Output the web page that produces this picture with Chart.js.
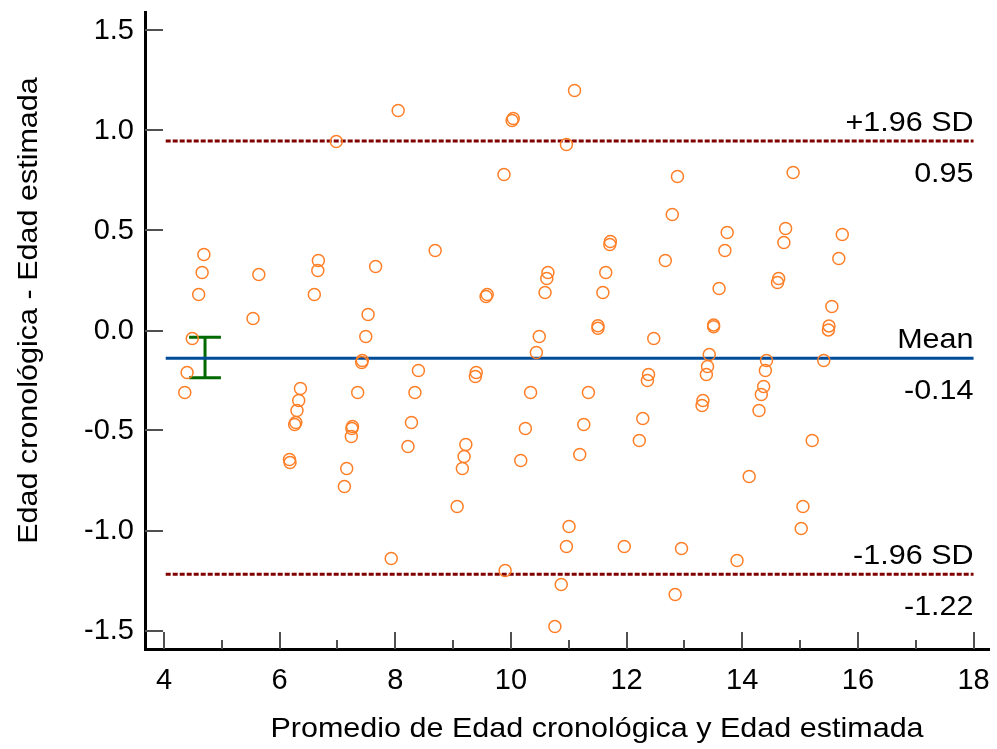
<!DOCTYPE html>
<html>
<head>
<meta charset="utf-8">
<script src="https://cdn.jsdelivr.net/npm/chart.js@4.4.1/dist/chart.umd.min.js"></script>
<style>
html, body { margin: 0; padding: 0; background: #fff; }
canvas { display: block; }
</style>
</head>
<body>
<canvas id="baChart" width="997" height="749"></canvas>
<script>
// average of the two ages (x) and their difference (y)
const avgAge = [
    4.36, 4.40, 4.49, 4.60, 4.66, 4.69, 5.54, 5.64,
    6.17, 6.18, 6.26, 6.28, 6.30, 6.33, 6.36, 6.60, 6.66, 6.67, 6.98,
    7.12, 7.16, 7.24, 7.25, 7.26, 7.35, 7.42, 7.43, 7.49, 7.53, 7.66, 7.93,
    8.05, 8.22, 8.28, 8.34, 8.40, 8.69,
    9.07, 9.16, 9.19, 9.22, 9.385, 9.40, 9.57, 9.59, 9.88, 9.90,
    10.02, 10.04, 10.17, 10.25, 10.34, 10.44, 10.49, 10.59, 10.62, 10.64,
    10.76, 10.87, 10.96, 10.96, 11.005, 11.10, 11.19, 11.26, 11.34,
    11.505, 11.505, 11.59, 11.64, 11.71, 11.72, 11.96,
    12.22, 12.28, 12.36, 12.38, 12.47, 12.67, 12.79, 12.84, 12.88, 12.95,
    13.305, 13.32, 13.38, 13.40, 13.43, 13.505, 13.505, 13.60, 13.70, 13.74, 13.91,
    14.12, 14.29, 14.33, 14.37, 14.40, 14.42, 14.61, 14.63, 14.72, 14.75, 14.88,
    15.02, 15.05, 15.21, 15.41, 15.49, 15.50, 15.55, 15.67, 15.73
];
const ageDiff = [
    -0.31, -0.21, -0.04, 0.18, 0.29, 0.38, 0.06, 0.28,
    -0.645, -0.66, -0.47, -0.46, -0.40, -0.35, -0.29, 0.18, 0.30, 0.35, 0.945,
    -0.78, -0.69, -0.53, -0.49, -0.48, -0.31, -0.16, -0.15, -0.03, 0.08, 0.32, -1.14,
    1.10, -0.58, -0.46, -0.31, -0.20, 0.40,
    -0.88, -0.69, -0.63, -0.57, -0.23, -0.21, 0.17, 0.18, 0.78, -1.20,
    1.05, 1.06, -0.65, -0.49, -0.31, -0.11, -0.03, 0.19, 0.26, 0.29,
    -1.48, -1.27, 0.93, -1.08, -0.98, 1.20, -0.62, -0.47, -0.31,
    0.024, 0.011, 0.19, 0.29, 0.43, 0.445, -1.08,
    -0.55, -0.44, -0.25, -0.22, -0.04, 0.35, 0.58, -1.32, 0.77, -1.09,
    -0.375, -0.35, -0.22, -0.18, -0.12, 0.028, 0.019, 0.21, 0.40, 0.49, -1.15,
    -0.73, -0.40, -0.32, -0.28, -0.20, -0.15, 0.24, 0.26, 0.44, 0.51, 0.79,
    -0.99, -0.88, -0.55, -0.15, 0.003, 0.023, 0.12, 0.36, 0.48
];

const meanDiff = -0.139;
const upperLoA = 0.948;
const lowerLoA = -1.219;
// 95% CI of the mean difference
const ciLow = -0.236;
const ciHigh = -0.034;
const ciX = 4.71;
const ciCap = 0.275;

const lineStart = 4.03;
const lineEnd = 18;

const xTicks = [4, 6, 8, 10, 12, 14, 16, 18];
const xMinorTicks = [5, 7, 9, 11, 13, 15, 17];
const yTicks = [-1.5, -1.0, -0.5, 0, 0.5, 1.0, 1.5];

const FONT = "'Liberation Sans', Arial, sans-serif";
const TEXT_STRETCH = 1.09; // original font is a bit wider than Liberation Sans
Chart.defaults.font.family = FONT;
Chart.defaults.color = '#000';

const points = avgAge.map((x, i) => ({ x: x, y: ageDiff[i] }));

function hLine(v) {
    return [{ x: lineStart, y: v }, { x: lineEnd, y: v }];
}

function wideText(ctx, text, x, y, align, angle) {
    ctx.save();
    ctx.translate(x, y);
    if (angle) ctx.rotate(angle);
    ctx.scale(TEXT_STRETCH, 1);
    ctx.textAlign = align;
    ctx.fillText(text, 0, 0);
    ctx.restore();
}

// inward tick marks, like the original
const innerTicks = {
    id: 'innerTicks',
    beforeDatasetsDraw(chart) {
        const { ctx, chartArea, scales: { x, y } } = chart;
        ctx.save();
        ctx.strokeStyle = '#505050';
        ctx.lineWidth = 2;
        ctx.beginPath();
        yTicks.forEach(v => {
            const py = Math.round(y.getPixelForValue(v));
            ctx.moveTo(chartArea.left, py);
            ctx.lineTo(chartArea.left + 18, py);
        });
        xTicks.forEach(v => {
            const px = Math.round(x.getPixelForValue(v));
            ctx.moveTo(px, chartArea.bottom);
            ctx.lineTo(px, chartArea.bottom - 17);
        });
        xMinorTicks.forEach(v => {
            const px = Math.round(x.getPixelForValue(v));
            ctx.moveTo(px, chartArea.bottom);
            ctx.lineTo(px, chartArea.bottom - 9);
        });
        ctx.stroke();
        ctx.restore();
    }
};

// "+1.96 SD / 0.95" style labels at the right end of each line
const lineLabels = {
    id: 'lineLabels',
    afterDatasetsDraw(chart) {
        const { ctx, scales: { x, y } } = chart;
        const rx = x.getPixelForValue(lineEnd);
        const labels = [
            ['+1.96 SD', upperLoA],
            ['Mean', meanDiff],
            ['-1.96 SD', lowerLoA]
        ];
        ctx.save();
        ctx.fillStyle = '#000';
        ctx.font = '28px ' + FONT;
        ctx.textBaseline = 'alphabetic';
        labels.forEach(([name, v]) => {
            const py = y.getPixelForValue(v);
            wideText(ctx, name, rx, py - 10, 'right');
            wideText(ctx, v.toFixed(2), rx, py + 41, 'right');
        });
        ctx.restore();
    }
};

const axisTitles = {
    id: 'axisTitles',
    afterDraw(chart) {
        const { ctx } = chart;
        ctx.save();
        ctx.fillStyle = '#000';
        ctx.font = '28px ' + FONT;
        ctx.textBaseline = 'alphabetic';
        wideText(ctx, 'Promedio de Edad cronológica y Edad estimada', 597, 737, 'center');
        wideText(ctx, 'Edad cronológica - Edad estimada', 37, 310.5, 'center', -Math.PI / 2);
        ctx.restore();
    }
};

const ctx = document.getElementById('baChart').getContext('2d');

const baChart = new Chart(ctx, {
    type: 'scatter',
    data: {
        datasets: [
            {
                label: 'Diferencia',
                data: points,
                pointStyle: 'circle',
                pointRadius: 6,
                pointHoverRadius: 6,
                borderColor: '#ff7f27',
                backgroundColor: 'rgba(0,0,0,0)',
                pointBorderWidth: 1.5,
                order: 0
            },
            {
                label: '+1.96 SD',
                data: hLine(upperLoA),
                showLine: true,
                borderColor: '#800000',
                borderWidth: 3,
                borderDash: [5, 2],
                pointRadius: 0,
                order: 1
            },
            {
                label: 'Mean',
                data: hLine(meanDiff),
                showLine: true,
                borderColor: '#004c99',
                borderWidth: 3,
                pointRadius: 0,
                order: 1
            },
            {
                label: '-1.96 SD',
                data: hLine(lowerLoA),
                showLine: true,
                borderColor: '#800000',
                borderWidth: 3,
                borderDash: [5, 2],
                pointRadius: 0,
                order: 1
            },
            {
                label: 'IC 95% media',
                data: [
                    { x: ciX - ciCap, y: ciHigh }, { x: ciX + ciCap, y: ciHigh }, { x: ciX, y: null },
                    { x: ciX, y: ciHigh }, { x: ciX, y: ciLow }, { x: ciX, y: null },
                    { x: ciX - ciCap, y: ciLow }, { x: ciX + ciCap, y: ciLow }
                ],
                showLine: true,
                spanGaps: false,
                borderColor: '#006a00',
                borderWidth: 3,
                pointRadius: 0,
                order: 1
            }
        ]
    },
    options: {
        responsive: false,
        animation: false,
        layout: { padding: { top: 12, left: 0, right: 1, bottom: 0 } },
        plugins: {
            legend: { display: false },
            tooltip: { enabled: false }
        },
        scales: {
            x: {
                type: 'linear',
                min: 3.672,
                max: 18.276,
                afterFit: s => {
                    s.height = 100;
                    s.paddingLeft = 0;
                    s.paddingRight = 0;
                },
                afterBuildTicks: s => { s.ticks = xTicks.map(v => ({ value: v })); },
                ticks: {
                    padding: 15,
                    font: { size: 29 },
                    maxRotation: 0,
                    autoSkip: false,
                    callback: v => String(v)
                },
                grid: { display: true, drawOnChartArea: false, drawTicks: false },
                border: { display: true, color: '#000', width: 3 }
            },
            y: {
                type: 'linear',
                min: -1.5925,
                max: 1.5925,
                afterFit: s => {
                    s.width = 145;
                    s.paddingTop = 0;
                    s.paddingBottom = 0;
                },
                afterBuildTicks: s => { s.ticks = yTicks.map(v => ({ value: v })); },
                ticks: {
                    padding: 11,
                    font: { size: 29 },
                    autoSkip: false,
                    callback: v => v.toFixed(1)
                },
                grid: { display: true, drawOnChartArea: false, drawTicks: false },
                border: { display: true, color: '#000', width: 3 }
            }
        }
    },
    plugins: [innerTicks, lineLabels, axisTitles]
});
</script>
</body>
</html>
